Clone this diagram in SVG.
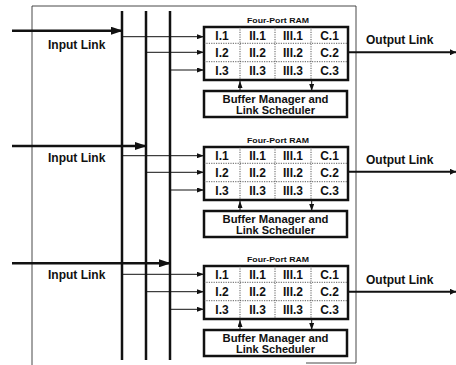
<svg xmlns="http://www.w3.org/2000/svg" width="456" height="365" viewBox="0 0 456 365">
<style>
text{font-family:"Liberation Sans",Arial,sans-serif;font-weight:bold;fill:#111}
.lbl{font-size:12px}
.cell{font-size:12px;text-anchor:middle}
.buf{font-size:11px;text-anchor:middle}
.ttl{font-size:8px;text-anchor:middle}
.box{fill:#fff;stroke:#111;stroke-width:2.5}
.dot{stroke:#333;stroke-width:0.8;stroke-dasharray:1.2 1.2;fill:none}
.bus{stroke:#111;stroke-width:2.5;fill:none}
.in{stroke:#111;stroke-width:2.5;fill:none;marker-end:url(#big)}
.thin{stroke:#111;stroke-width:1;fill:none;marker-end:url(#sm)}
.out{stroke:#111;stroke-width:2;fill:none;marker-end:url(#med)}
</style>
<defs>
<marker id="big" markerUnits="userSpaceOnUse" markerWidth="12" markerHeight="8" refX="11" refY="4" orient="auto"><path d="M0,0 L12,4 L0,8 Z" fill="#111"/></marker>
<marker id="sm" markerUnits="userSpaceOnUse" markerWidth="7" markerHeight="5" refX="7" refY="2.5" orient="auto"><path d="M0,0 L7,2.5 L0,5 Z" fill="#111"/></marker>
<marker id="med" markerUnits="userSpaceOnUse" markerWidth="6" markerHeight="6" refX="6" refY="3" orient="auto"><path d="M0,0 L6,3 L0,6 Z" fill="#111"/></marker>
<g id="ramcell">
<rect class="box" x="204" y="27" width="144" height="53"/>
<path class="dot" d="M204,43.3 H348 M204,61.7 H348 M240,27 V80 M275,27 V80 M311,27 V80"/>
<text class="ttl" x="278" y="23" textLength="62" lengthAdjust="spacingAndGlyphs">Four-Port RAM</text>
<text class="cell" x="222" y="39.5">I.1</text><text class="cell" x="257.5" y="39.5">II.1</text><text class="cell" x="293" y="39.5">III.1</text><text class="cell" x="329.5" y="39.5">C.1</text>
<text class="cell" x="222" y="56.5">I.2</text><text class="cell" x="257.5" y="56.5">II.2</text><text class="cell" x="293" y="56.5">III.2</text><text class="cell" x="329.5" y="56.5">C.2</text>
<text class="cell" x="222" y="75">I.3</text><text class="cell" x="257.5" y="75">II.3</text><text class="cell" x="293" y="75">III.3</text><text class="cell" x="329.5" y="75">C.3</text>
</g>
</defs>
<path d="M32,365 V6 H356 V363 H306" fill="none" stroke="#333" stroke-width="0.9"/>

<g id="connectors">
<path class="bus" d="M122,11 V360 M146,11 V360 M170,11 V360"/>
<path class="in" d="M12,30.7 H122"/>
<path class="in" d="M12,146 H146"/>
<path class="in" d="M12,263.3 H170"/>
<path class="thin" d="M122,36.7 H204"/><path class="thin" d="M146,52.3 H204"/><path class="thin" d="M170,70 H204"/>
<path class="thin" d="M122,155.7 H204"/><path class="thin" d="M146,172.3 H204"/><path class="thin" d="M170,190 H204"/>
<path class="thin" d="M122,274.3 H204"/><path class="thin" d="M146,291.7 H204"/><path class="thin" d="M170,309.3 H204"/>
<path class="thin" d="M240,91 V81"/><path class="thin" d="M311.7,81 V91"/>
<path class="thin" d="M240,211 V201"/><path class="thin" d="M311.7,201 V211"/>
<path class="thin" d="M240,330 V320"/><path class="thin" d="M311.7,320 V330"/>
<path class="out" d="M349,52.3 H456"/>
<path class="out" d="M349,171.7 H456"/>
<path class="out" d="M349,291.7 H456"/>
</g>

<g id="labels">
<text class="lbl" x="48" y="49">Input Link</text>
<text class="lbl" x="48" y="162">Input Link</text>
<text class="lbl" x="48" y="279">Input Link</text>
<text class="lbl" x="366" y="44">Output Link</text>
<text class="lbl" x="366" y="164">Output Link</text>
<text class="lbl" x="366" y="284">Output Link</text>
</g>

<g id="ram1"><use href="#ramcell"/></g>
<g id="ram2"><use href="#ramcell" transform="translate(0,120)"/></g>
<g id="ram3"><use href="#ramcell" transform="translate(0,239)"/></g>

<g id="buf1"><rect class="box" x="204" y="91" width="143" height="26"/>
<text class="buf" x="275.5" y="102.5" textLength="106" lengthAdjust="spacingAndGlyphs">Buffer Manager and</text><text class="buf" x="275.5" y="113.5">Link Scheduler</text></g>
<g id="buf2"><rect class="box" x="204" y="211" width="143" height="26"/>
<text class="buf" x="275.5" y="222.5" textLength="106" lengthAdjust="spacingAndGlyphs">Buffer Manager and</text><text class="buf" x="275.5" y="233.5">Link Scheduler</text></g>
<g id="buf3"><rect class="box" x="204" y="330" width="143" height="26"/>
<text class="buf" x="275.5" y="341.5" textLength="106" lengthAdjust="spacingAndGlyphs">Buffer Manager and</text><text class="buf" x="275.5" y="352.5">Link Scheduler</text></g>
</svg>
